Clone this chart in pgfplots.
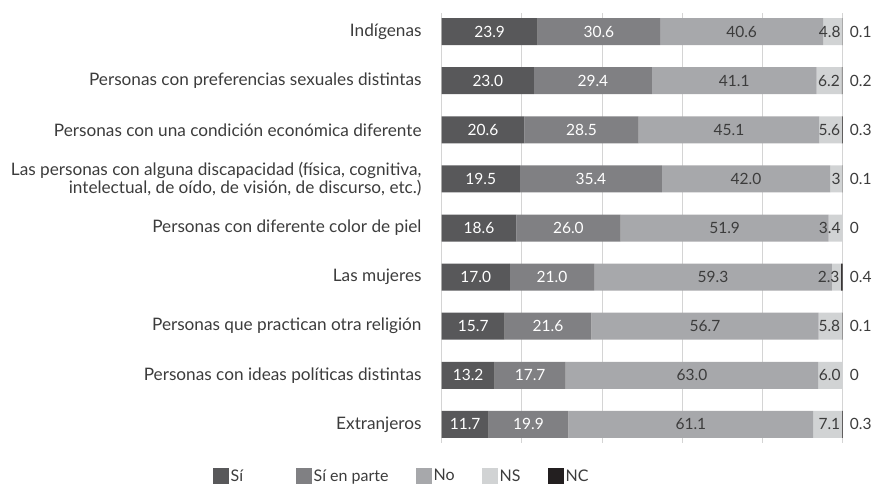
\documentclass[border=0pt]{standalone}
\usepackage{fontspec}
\setmainfont{Lato}
\usepackage{pgfplots}
\usepackage{pgfplotstable}
\pgfplotsset{compat=1.18}

\definecolor{cSi}{HTML}{58585A}
\definecolor{cSp}{HTML}{808083}
\definecolor{cNo}{HTML}{A7A8AB}
\definecolor{cNs}{HTML}{D1D3D4}
\definecolor{cNc}{HTML}{231F20}
\definecolor{cGrid}{HTML}{D4D4D4}
\definecolor{cTxt}{HTML}{3C3C3C}

% valores en porcentaje: Si, Si en parte, No, NS, NC
\pgfplotstableread{
y si sp no ns nc
1 23.9 30.6 40.6 4.8 0.1
2 23.0 29.4 41.1 6.2 0.2
3 20.6 28.5 45.1 5.6 0.3
4 19.5 35.4 42.0 3 0.1
5 18.6 26.0 51.9 3.4 0
6 17.0 21.0 59.3 2.3 0.4
7 15.7 21.6 56.7 5.8 0.1
8 13.2 17.7 63.0 6.0 0
9 11.7 19.9 61.1 7.1 0.3
}\datos

\begin{document}
\begin{tikzpicture}
\useasboundingbox (0,0) rectangle (872pt,484pt);
\begin{axis}[
    at={(441.7pt,41pt)}, anchor=south west,
    scale only axis, width=401pt, height=430pt,
    xbar stacked, bar width=27pt,
    xmin=0, xmax=100, ymin=0.62, ymax=9.38, y dir=reverse,
    xtick={0,20,...,100}, xticklabels={},
    xmajorgrids, grid style={draw=cGrid, line width=0.9pt},
    axis line style={draw=none}, major tick length=0pt,
    ytick={1,...,9},
    yticklabels={
        {Indígenas},
        {Personas con preferencias sexuales distintas},
        {Personas con una condición económica diferente},
        {Las personas con alguna discapacidad (física, cognitiva,\\intelectual, de oído, de visión, de discurso, etc.)},
        {Personas con diferente color de piel},
        {Las mujeres},
        {Personas que practican otra religión},
        {Personas con ideas políticas distintas},
        {Extranjeros}},
    yticklabel style={font=\fontsize{17.2}{14}\selectfont, align=right,
        inner sep=0pt, xshift=-20pt, text=cTxt},
    point meta=explicit symbolic,
    every node near coord/.style={font=\fontsize{15.5}{15.5}\selectfont, inner sep=0pt},
    legend columns=5,
    legend image code/.code={\fill[#1] (0pt,-8pt) rectangle (16pt,8pt);},
    legend style={at={(axis description cs:0,0)}, anchor=west,
        xshift=-228.7pt, yshift=-33pt, draw=none, inner sep=0pt,
        font=\fontsize{16}{16}\selectfont, text=cTxt,
        nodes={inner sep=1.5pt},
        /tikz/every even column/.append style={column sep=26pt}},
]
\addplot[fill=cSi, draw=none, nodes near coords,
    every node near coord/.append style={anchor=center, text=white}]
    table[x=si, y=y, meta=si] {\datos};
\addlegendentry{\makebox[38pt][l]{Sí}}
\addplot[fill=cSp, draw=none, nodes near coords,
    every node near coord/.append style={anchor=center, text=white}]
    table[x=sp, y=y, meta=sp] {\datos};
\addlegendentry{Sí en parte}
\addplot[fill=cNo, draw=none, nodes near coords,
    every node near coord/.append style={anchor=center, text=cTxt}]
    table[x=no, y=y, meta=no] {\datos};
\addlegendentry{No}
\addplot[fill=cNs, draw=none, nodes near coords,
    visualization depends on={\thisrow{ns} \as \val},
    every node near coord/.append style={anchor=east, xshift=\val*2.005pt-1.5pt, text=cTxt}]
    table[x=ns, y=y, meta=ns] {\datos};
\addlegendentry{NS}
\addplot[fill=cNc, draw=none]
    table[x=nc, y=y] {\datos};
\addlegendentry{NC}
\end{axis}
% etiquetas de NC a la derecha de las barras
\begin{axis}[
    at={(441.7pt,41pt)}, anchor=south west,
    scale only axis, width=401pt, height=430pt,
    xmin=0, xmax=100, ymin=0.62, ymax=9.38, y dir=reverse,
    hide x axis, axis y line*=right, y axis line style={draw=none},
    major tick length=0pt,
    ytick={1,...,9},
    yticklabels={0.1,0.2,0.3,0.1,0,0.4,0.1,0,0.3},
    yticklabel style={font=\fontsize{15.5}{15.5}\selectfont, anchor=west,
        inner sep=0pt, xshift=7pt, text=cTxt},
]
\addplot[draw=none] coordinates {(0,1)};
\end{axis}
\end{tikzpicture}
\end{document}
